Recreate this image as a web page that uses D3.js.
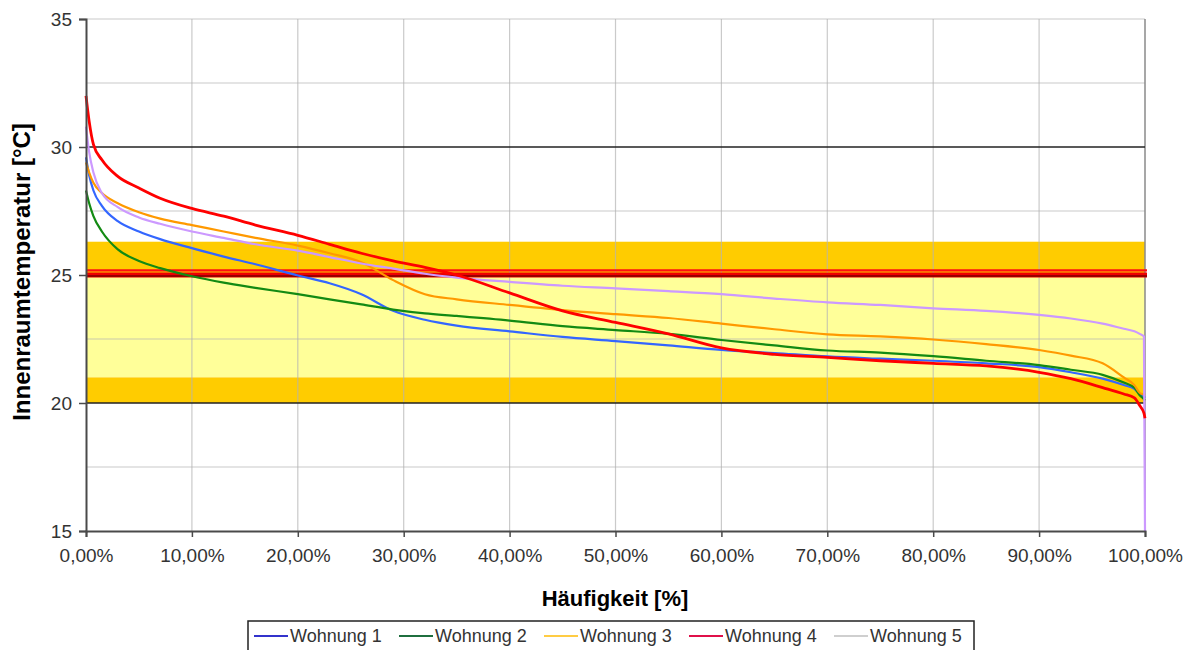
<!DOCTYPE html>
<html>
<head>
<meta charset="utf-8">
<script src="https://cdn.jsdelivr.net/npm/d3@7"></script>
<style>
  html, body { margin: 0; padding: 0; background: #fff; }
  svg { display: block; font-family: "Liberation Sans", Arial, sans-serif; }
</style>
</head>
<body>
<svg id="chart" width="1192" height="650"></svg>
<script>
// ---- data ----
const xPercent = [0, 0.3, 0.7, 1.5, 3, 5, 7, 10, 13, 16, 20, 23, 26, 29, 32, 35, 40, 45, 50, 55, 60, 65, 70, 75, 80, 85, 90, 93, 96, 98, 99, 99.5, 99.9, 100];
const seriesNames = ["Wohnung 1", "Wohnung 2", "Wohnung 3", "Wohnung 4", "Wohnung 5"];
const wohnung1 = [29.6, 28.9, 28.3, 27.7, 27.1, 26.7, 26.4, 26.05, 25.72, 25.42, 24.98, 24.68, 24.25, 23.6, 23.25, 23.02, 22.8, 22.58, 22.42, 22.25, 22.07, 21.95, 21.82, 21.73, 21.65, 21.55, 21.4, 21.2, 20.95, 20.7, 20.55, 20.35, 20.25, 20.2];
const wohnung2 = [28.3, 27.8, 27.3, 26.7, 26.0, 25.55, 25.27, 24.95, 24.7, 24.5, 24.25, 24.05, 23.85, 23.65, 23.5, 23.4, 23.22, 23.0, 22.85, 22.7, 22.46, 22.25, 22.05, 21.97, 21.83, 21.65, 21.48, 21.3, 21.1, 20.8, 20.6, 20.3, 20.15, 20.1];
const wohnung3 = [29.4, 29.0, 28.6, 28.2, 27.8, 27.45, 27.2, 26.95, 26.7, 26.45, 26.15, 25.85, 25.5, 24.8, 24.25, 24.05, 23.83, 23.63, 23.47, 23.32, 23.1, 22.88, 22.68, 22.6, 22.48, 22.3, 22.07, 21.85, 21.55, 21.0, 20.7, 20.4, 20.32, 20.3];
const wohnung4 = [32.0, 31.0, 30.1, 29.5, 28.85, 28.4, 28.0, 27.6, 27.3, 26.95, 26.55, 26.2, 25.85, 25.55, 25.3, 25.0, 24.3, 23.6, 23.15, 22.7, 22.15, 21.9, 21.78, 21.65, 21.55, 21.45, 21.2, 20.95, 20.6, 20.35, 20.2, 19.9, 19.6, 19.4];
const wohnung5 = [30.8, 29.8, 29.0, 28.2, 27.65, 27.25, 27.0, 26.7, 26.45, 26.2, 25.95, 25.7, 25.45, 25.25, 25.05, 24.9, 24.73, 24.58, 24.48, 24.37, 24.25, 24.08, 23.93, 23.83, 23.7, 23.6, 23.44, 23.3, 23.1, 22.9, 22.8, 22.7, 22.6, 15.0];
const lineColors = ["#3366ff", "#138a13", "#ff9900", "#ff0000", "#cc99ff"];
const legendColors = ["#3333cc", "#1f6f3f", "#ffcc44", "#e0104a", "#cfcfcf"];
const xTicks = [0, 10, 20, 30, 40, 50, 60, 70, 80, 90, 100];
const yTicks = [15, 20, 25, 30, 35];
const yGrid = [17.5, 22.5, 27.5, 32.5, 35];
// comfort bands: [low, high]
const bandOrange = [[20, 21], [25, 26.3]];
const bandYellow = [[21, 25]];
const blackLines = [30, 20];

// ---- layout ----
const svg = d3.select("#chart");
const x = d3.scaleLinear().domain([0, 100]).range([86, 1145]);
const y = d3.scaleLinear().domain([15, 35]).range([531, 19]);

// bands
svg.append("g").selectAll("rect").data(bandYellow).join("rect")
  .attr("x", x(0)).attr("width", x(100) - x(0))
  .attr("y", d => y(d[1])).attr("height", d => y(d[0]) - y(d[1]))
  .attr("fill", "#ffff99");
svg.append("g").selectAll("rect").data(bandOrange).join("rect")
  .attr("x", x(0)).attr("width", x(100) - x(0))
  .attr("y", d => y(d[1])).attr("height", d => y(d[0]) - y(d[1]))
  .attr("fill", "#ffcc00");

// grid
const grid = svg.append("g").attr("stroke", "#b4b4b4").attr("stroke-opacity", 0.7).attr("stroke-width", 1.2);
grid.selectAll("line.v").data(xTicks.slice(1, -1)).join("line")
  .attr("x1", d => x(d)).attr("x2", d => x(d)).attr("y1", y(35)).attr("y2", y(15));
grid.selectAll("line.h").data(yGrid).join("line")
  .attr("x1", x(0)).attr("x2", x(100)).attr("y1", d => y(d)).attr("y2", d => y(d));
svg.append("line").attr("x1", x(100)).attr("x2", x(100)).attr("y1", y(35)).attr("y2", y(15))
  .attr("stroke", "#8a8a8a").attr("stroke-width", 1.5);

// reference lines
svg.append("g").selectAll("line").data(blackLines).join("line")
  .attr("x1", x(0)).attr("x2", x(100)).attr("y1", d => y(d)).attr("y2", d => y(d))
  .attr("stroke", "#222").attr("stroke-width", 1.5);
svg.append("line").attr("x1", x(0)).attr("x2", x(100) + 2).attr("y1", y(25.18)).attr("y2", y(25.18))
  .attr("stroke", "#ff1010").attr("stroke-width", 2.2);
svg.append("line").attr("x1", x(0)).attr("x2", x(100) + 2).attr("y1", y(25.0)).attr("y2", y(25.0))
  .attr("stroke", "#ee0000").attr("stroke-width", 5);
svg.append("line").attr("x1", x(0)).attr("x2", x(100) + 2).attr("y1", y(24.96)).attr("y2", y(24.96))
  .attr("stroke", "#990000").attr("stroke-width", 2);

// series
const allSeries = [wohnung1, wohnung2, wohnung3, wohnung5, wohnung4];
const allColors = [lineColors[0], lineColors[1], lineColors[2], lineColors[4], lineColors[3]];
const line = d3.line().x((d, i) => x(xPercent[i])).y(d => y(d)).curve(d3.curveMonotoneX);
svg.append("g").selectAll("path").data(allSeries).join("path")
  .attr("d", d => line(d)).attr("fill", "none")
  .attr("stroke", (d, i) => allColors[i])
  .attr("stroke-width", (d, i) => i === 4 ? 2.8 : 2.2)
  .attr("stroke-linejoin", "round");

// axes
const xAxis = svg.append("g").attr("transform", `translate(0,${y(15)})`)
  .call(d3.axisBottom(x).tickValues(xTicks).tickSize(6).tickPadding(12)
    .tickFormat(d => d3.format(".2f")(d).replace(".", ",") + "%"));
const yAxis = svg.append("g").attr("transform", `translate(${x(0)},0)`)
  .call(d3.axisLeft(y).tickValues(yTicks).tickSize(7).tickPadding(7));
[xAxis, yAxis].forEach(a => {
  a.select(".domain").attr("stroke", "#4a4a4a").attr("stroke-width", 2);
  a.selectAll(".tick line").attr("stroke", "#4a4a4a").attr("stroke-width", 1.5);
  a.selectAll("text").attr("fill", "#333").attr("font-size", 19)
    .attr("font-family", "Liberation Sans, Arial, sans-serif");
});

// titles
svg.append("text").attr("x", 615).attr("y", 606).attr("text-anchor", "middle")
  .attr("font-size", 22).attr("font-weight", "bold").attr("fill", "#000")
  .text("Häufigkeit [%]");
svg.append("text").attr("transform", "translate(30,272) rotate(-90)").attr("text-anchor", "middle")
  .attr("font-size", 24).attr("font-weight", "bold").attr("fill", "#000")
  .text("Innenraumtemperatur [°C]");

// legend
const legend = svg.append("g");
legend.append("rect").attr("x", 248).attr("y", 621).attr("width", 726).attr("height", 40)
  .attr("fill", "#fff").attr("stroke", "#222").attr("stroke-width", 1.5);
const items = legend.selectAll("g.item").data(seriesNames).join("g")
  .attr("transform", (d, i) => `translate(${254 + i * 145},0)`);
items.append("line").attr("x1", 0).attr("x2", 34).attr("y1", 636).attr("y2", 636)
  .attr("stroke", (d, i) => legendColors[i]).attr("stroke-width", 2);
items.append("text").attr("x", 36).attr("y", 642).attr("font-size", 18).attr("fill", "#333")
  .text(d => d);
</script>
</body>
</html>
